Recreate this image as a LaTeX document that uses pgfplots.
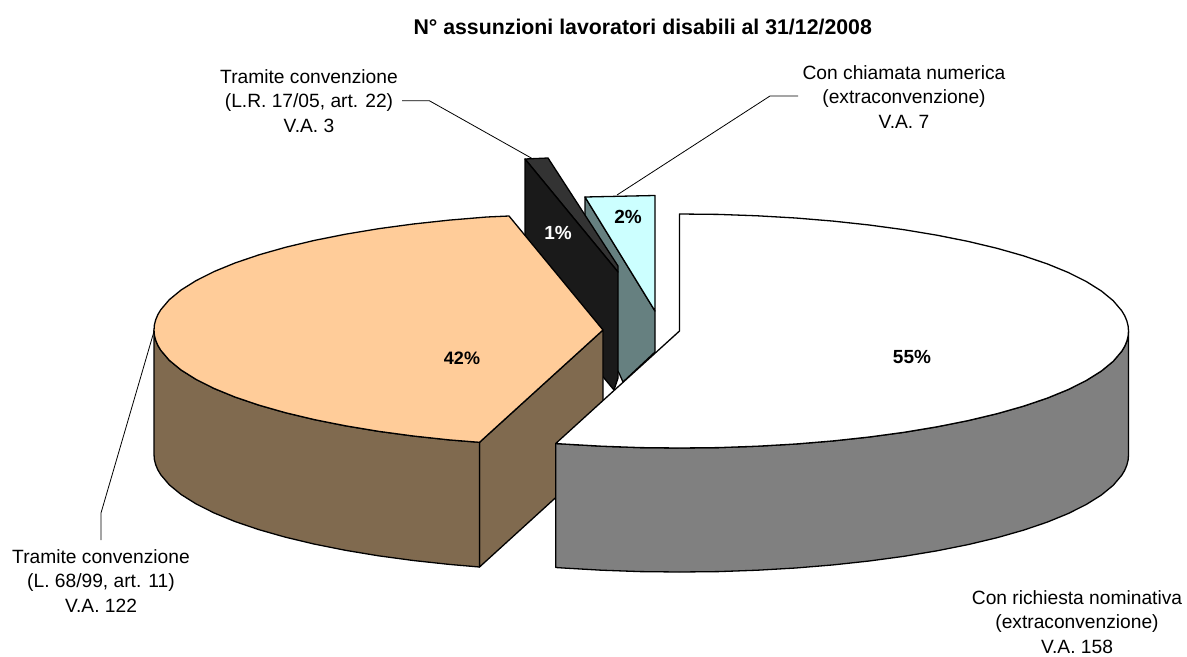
\documentclass[border=0pt]{standalone}
\usepackage{fontspec}
\setmainfont{Liberation Sans}
\usepackage{pgfplots}
\pgfplotsset{compat=1.18}
\definecolor{orangeT}{HTML}{FFCC99}
\definecolor{brownS}{HTML}{806A4F}
\definecolor{greyS}{HTML}{808080}
\definecolor{tealS}{HTML}{668080}
\definecolor{cyanT}{HTML}{CCFFFF}
\definecolor{blackS}{HTML}{1A1A1A}
\definecolor{darkT}{HTML}{333333}
\newcommand{\lbl}{\fontsize{19.2bp}{24.4bp}\selectfont}
\newcommand{\pct}{\fontsize{18bp}{20bp}\selectfont\bfseries}
\newcommand{\pctb}{\fontsize{19bp}{20bp}\selectfont\bfseries}
\begin{document}
\begin{tikzpicture}
\begin{axis}[
  scale only axis, width=1187bp, height=654bp,
  xmin=0, xmax=1187, ymin=0, ymax=654, y dir=reverse,
  hide axis, clip=false,
  every axis plot/.append style={line join=round, line width=1.3bp, draw=black},
]
\path (axis cs:0,0) rectangle (axis cs:1187,654);
% leaders
\addplot[line width=0.8bp] coordinates {(402,100.7) (429.3,100.7) (533,159)};
\addplot[line width=0.8bp] coordinates {(798,96) (770,96) (617,195)};
\addplot[line width=0.8bp] coordinates {(155,328) (101,513) (101,540)};
% 2% slice
\addplot[fill=tealS] coordinates {(585,197) (655,311) (655,352) (623,382) (619,373) (585,321)} --cycle;
\addplot[fill=cyanT] coordinates {(585,197) (655,195.5) (655,311)} --cycle;
% 1% slice
\addplot[fill=darkT] coordinates {(525,159) (548,158) (618,266) (618,272)} --cycle;
\addplot[fill=blackS] coordinates {(525,159) (618,272) (618,378) (614,390) (525,283)} --cycle;
% 42% slice
\addplot[fill=brownS] coordinates {(479.5,442.3) (603,330) (603,454.5) (479.5,567)} --cycle;
\addplot[fill=brownS] coordinates {(154,330) (154.4,335.1) (155.7,340.2) (157.8,345.3) (160.8,350.3) (169.3,360.3) (181.1,370) (196.1,379.4) (214.2,388.5) (235.2,397.1) (259.1,405.2) (285.5,412.7) (314.4,419.6) (345.5,425.8) (378.5,431.3) (413.3,436) (449.4,439.9) (479.5,442.3) (479.5,567) (449.4,564.4) (413.3,560.5) (378.5,555.8) (345.5,550.3) (314.4,544.1) (285.5,537.2) (259.1,529.7) (235.2,521.6) (214.2,513) (196.1,503.9) (181.1,494.5) (169.3,484.8) (160.8,474.8) (157.8,469.8) (155.7,464.7) (154.4,459.6) (154,454.5)} --cycle;
\addplot[fill=orangeT] coordinates {(603,330) (509,216) (486.8,217) (449.4,220.1) (413.3,224) (378.5,228.7) (345.5,234.2) (314.4,240.4) (285.5,247.3) (259.1,254.8) (235.2,262.9) (214.2,271.5) (196.1,280.6) (181.1,290) (169.3,299.7) (160.8,309.7) (157.8,314.7) (155.7,319.8) (154.4,324.9) (154,330) (154.4,335.1) (155.7,340.2) (157.8,345.3) (160.8,350.3) (169.3,360.3) (181.1,370) (196.1,379.4) (214.2,388.5) (235.2,397.1) (259.1,405.2) (285.5,412.7) (314.4,419.6) (345.5,425.8) (378.5,431.3) (413.3,436) (449.4,439.9) (479.5,442.3)} --cycle;
% 55% slice
\addplot[fill=greyS] coordinates {(1128.5,331) (1128.1,336.1) (1126.8,341.2) (1124.7,346.3) (1121.7,351.3) (1113.2,361.3) (1101.4,371) (1086.4,380.4) (1068.3,389.5) (1047.3,398.1) (1023.4,406.2) (997,413.7) (968.1,420.6) (937,426.8) (904,432.3) (869.2,437) (833.1,440.9) (795.7,444) (757.4,446.2) (718.6,447.6) (679.5,448) (640.4,447.6) (601.6,446.2) (563.3,444) (555.7,443.5) (555.7,567.5) (563.3,568) (601.6,570.2) (640.4,571.6) (679.5,572) (718.6,571.6) (757.4,570.2) (795.7,568) (833.1,564.9) (869.2,561) (904,556.3) (937,550.8) (968.1,544.6) (997,537.7) (1023.4,530.2) (1047.3,522.1) (1068.3,513.5) (1086.4,504.4) (1101.4,495) (1113.2,485.3) (1121.7,475.3) (1124.7,470.3) (1126.8,465.2) (1128.1,460.1) (1128.5,455)} --cycle;
\addplot[fill=white] coordinates {(679.5,331) (679.5,214) (718.6,214.4) (757.4,215.8) (795.7,218) (833.1,221.1) (869.2,225) (904,229.7) (937,235.2) (968.1,241.4) (997,248.3) (1023.4,255.8) (1047.3,263.9) (1068.3,272.5) (1086.4,281.6) (1101.4,291) (1113.2,300.7) (1121.7,310.7) (1124.7,315.7) (1126.8,320.8) (1128.1,325.9) (1128.5,331) (1128.1,336.1) (1126.8,341.2) (1124.7,346.3) (1121.7,351.3) (1113.2,361.3) (1101.4,371) (1086.4,380.4) (1068.3,389.5) (1047.3,398.1) (1023.4,406.2) (997,413.7) (968.1,420.6) (937,426.8) (904,432.3) (869.2,437) (833.1,440.9) (795.7,444) (757.4,446.2) (718.6,447.6) (679.5,448) (640.4,447.6) (601.6,446.2) (563.3,444) (555.7,443.5)} --cycle;
% text
\node[font=\fontsize{21.3bp}{24bp}\selectfont\bfseries] at (axis cs:642.7,26.5) {N° assunzioni lavoratori disabili al 31/12/2008};
\node[font=\pct] at (axis cs:462,358) {42\%};
\node[font=\pctb] at (axis cs:912,357) {55\%};
\node[font=\pctb,text=white] at (axis cs:558,233) {1\%};
\node[font=\pctb] at (axis cs:628,217) {2\%};
\node[font=\lbl,align=center] at (axis cs:309,101) {Tramite convenzione\\(L.R. 17/05, art. 22)\\V.A. 3};
\node[font=\lbl,align=center] at (axis cs:904,97) {Con chiamata numerica\\(extraconvenzione)\\V.A. 7};
\node[font=\lbl,align=center] at (axis cs:101,581) {Tramite convenzione\\(L. 68/99, art. 11)\\V.A. 122};
\node[font=\lbl,align=center] at (axis cs:1077,622) {Con richiesta nominativa\\(extraconvenzione)\\V.A. 158};
\end{axis}
\end{tikzpicture}
\end{document}
